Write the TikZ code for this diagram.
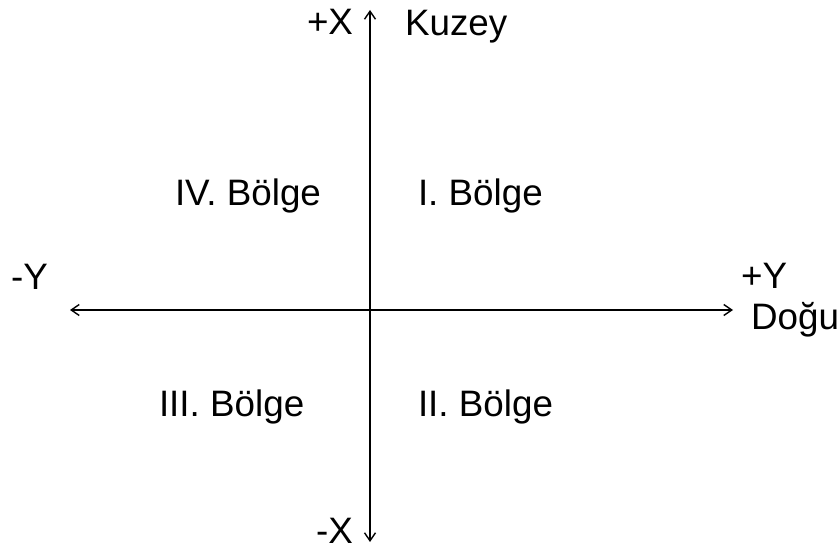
\documentclass[tikz,border=0pt]{standalone}
\usepackage{fontspec}
\setmainfont{Liberation Sans}
\usetikzlibrary{arrows.meta}

\begin{document}
\begin{tikzpicture}[
    x=0.5pt, y=-0.5pt,
    axis/.style={{Straight Barb[length=4pt,width=5.5pt]}-{Straight Barb[length=4pt,width=5.5pt]}, line width=0.7pt},
    lbl/.style={anchor=base west, inner sep=0pt, outer sep=0pt}
]
\tikzstyle{every node}=[font=\fontsize{18.4pt}{21pt}\selectfont]

\useasboundingbox (0,0) rectangle (839,550);

% --- EKSENLER ---
\coordinate (top) at (370,10);
\coordinate (bottom) at (370,542);
\coordinate (west) at (70,310);
\coordinate (east) at (733,310);

\draw[axis] (bottom) -- (top);
\draw[axis] (west) -- (east);

% --- EKSEN ETIKETLERI ---
\node[lbl] (px) at (307,35) {+X};
\node[lbl] (kuzey) at (405,36) {Kuzey};
\node[lbl] (mx) at (316,543) {-X};
\node[lbl] (my) at (11,290) {-Y};
\node[lbl] (py) at (741,289) {+Y};
\node[lbl] (dogu) at (751,329) {Doğu};

% --- BOLGELER ---
\node[lbl] (b4) at (175,206) {IV. Bölge};
\node[lbl] (b1) at (418,206) {I. Bölge};
\node[lbl] (b3) at (159,416) {III. Bölge};
\node[lbl] (b2) at (418,416) {II. Bölge};

\end{tikzpicture}
\end{document}
